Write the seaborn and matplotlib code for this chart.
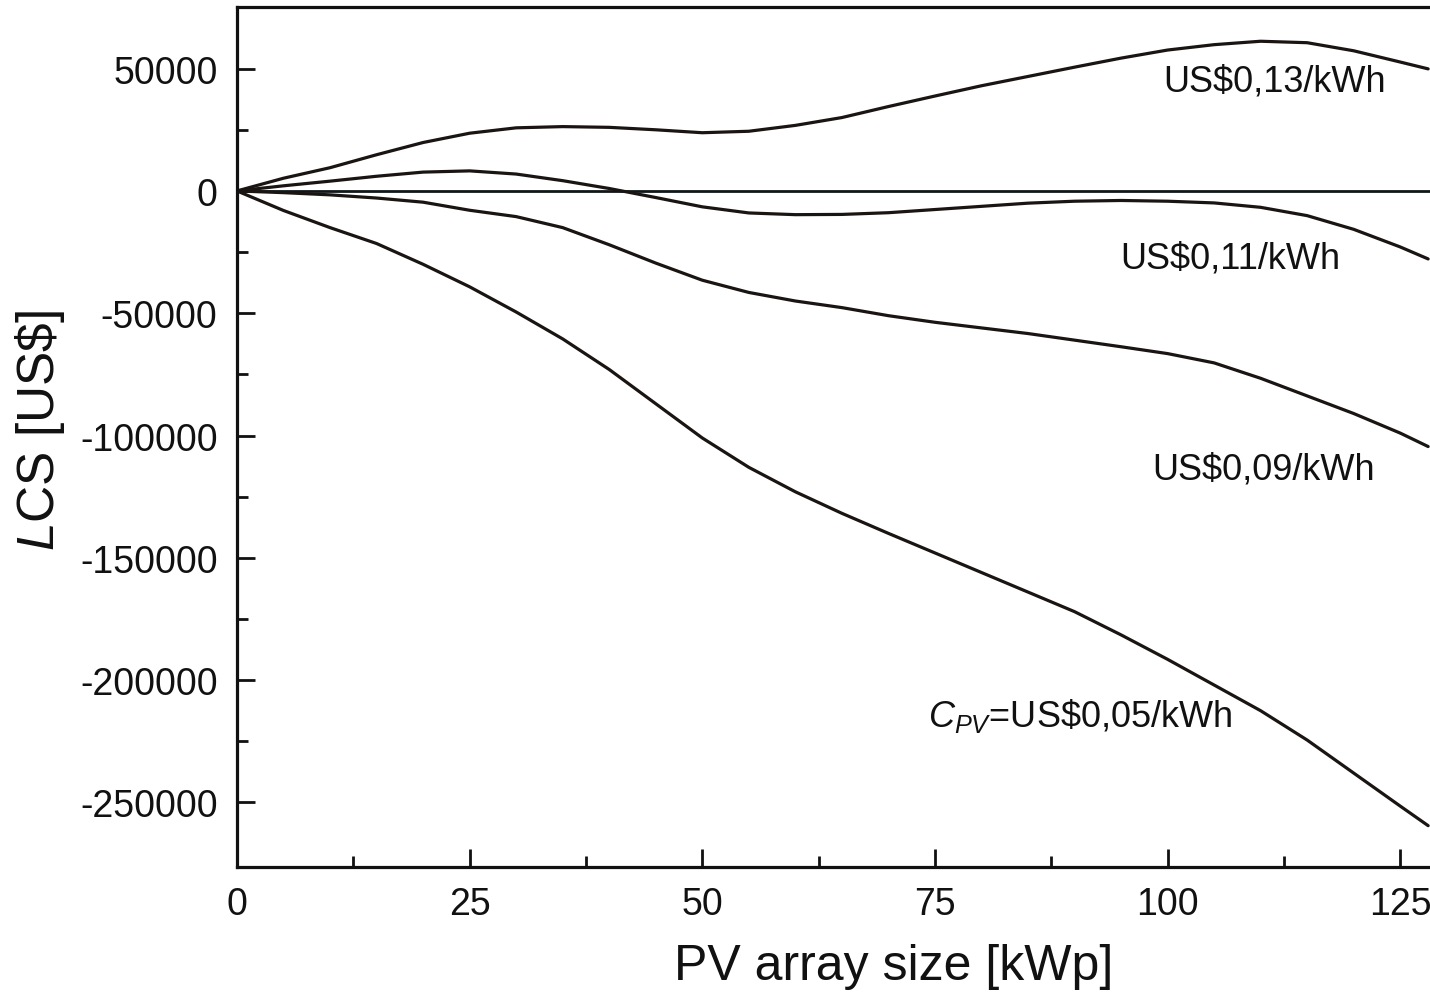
import matplotlib
matplotlib.use("Agg")
import matplotlib.pyplot as plt
from matplotlib.ticker import FixedLocator
import numpy as np
import pandas as pd
import seaborn as sns

# ---- data ----
pv_size = [0, 5, 10, 15, 20, 25, 30, 35, 40, 45, 50, 55, 60, 65, 70, 75,
           80, 85, 90, 95, 100, 105, 110, 115, 120, 125, 128]
lcs_013 = [0, 5200, 9500, 14800, 19800, 23600, 25800, 26300, 26000, 25000,
           23800, 24400, 26800, 30000, 34500, 38800, 43000, 46800, 50600,
           54300, 57600, 59800, 61200, 60600, 57300, 52700, 49900]
lcs_011 = [0, 2100, 4000, 6000, 7700, 8200, 6900, 4200, 1000, -2700, -6500,
           -9000, -9700, -9600, -8900, -7600, -6300, -5000, -4200, -3900,
           -4200, -4900, -6700, -10100, -15700, -22900, -27800]
lcs_009 = [0, -700, -1600, -2900, -4600, -7900, -10500, -15000, -22000,
           -29500, -36500, -41500, -45000, -47700, -51000, -53700, -56000,
           -58300, -61000, -63700, -66500, -70300, -76600, -83800, -91000,
           -99000, -104500]
lcs_005 = [0, -8000, -15000, -21500, -30000, -39200, -49500, -60500, -73000,
           -87000, -101000, -113000, -123000, -131800, -140000, -148000,
           -156000, -164000, -172000, -181500, -191500, -202000, -212500,
           -224500, -238000, -251500, -259500]
series_names = ["0.13", "0.11", "0.09", "0.05"]
labels = ["US$0,13/kWh", "US$0,11/kWh", "US$0,09/kWh",
          r"$C_{PV}$=US\$0,05/kWh"]
label_pos = [(99.5, 40900), (94.9, -31500), (98.4, -117700), (74.3, -218700)]
x_ticks = [0, 25, 50, 75, 100, 125]
x_minor = [12.5, 37.5, 62.5, 87.5, 112.5]
y_ticks = [50000, 0, -50000, -100000, -150000, -200000, -250000]
y_minor = [25000, -25000, -75000, -125000, -175000, -225000]

df = pd.concat([
    pd.DataFrame({"x": pv_size, "y": vals, "s": name})
    for name, vals in zip(series_names, [lcs_013, lcs_011, lcs_009, lcs_005])
])

sns.set_theme(style="white")
plt.rcParams["font.family"] = ["Liberation Sans", "DejaVu Sans"]
plt.rcParams["mathtext.fontset"] = "custom"
plt.rcParams["mathtext.rm"] = "Liberation Sans"
plt.rcParams["mathtext.it"] = "Liberation Sans:italic"
plt.rcParams["mathtext.bf"] = "Liberation Sans:bold"

W, H = 1430, 995
fig = plt.figure(figsize=(W / 100, H / 100), dpi=100)
ax = fig.add_axes([237 / W, 1 - 868 / H, (1430 - 237) / W, (868 - 8) / H])

line_col = "#1a1512"
sns.lineplot(data=df, x="x", y="y", hue="s", palette=[line_col] * 4,
             legend=False, ax=ax, linewidth=2.3, sort=False)
ax.axhline(0, color="#111618", linewidth=2.0, zorder=1)

ax.set_xlim(0, 128.2)
ax.set_ylim(-276400, 75200)
ax.set_xticks(x_ticks)
ax.set_yticks(y_ticks)
ax.set_xticklabels([str(v) for v in x_ticks])
ax.set_yticklabels([str(v) for v in y_ticks])
ax.xaxis.set_minor_locator(FixedLocator(x_minor))
ax.yaxis.set_minor_locator(FixedLocator(y_minor))

ax.tick_params(axis="both", which="both", bottom=True, left=True,
               top=False, right=False)
ax.tick_params(axis="both", which="major", direction="in", length=13,
               width=2.0, labelsize=27, color="#111", labelcolor="#111")
ax.tick_params(axis="both", which="minor", direction="in", length=8,
               width=2.0, color="#111")
ax.tick_params(axis="x", which="major", pad=14)
ax.tick_params(axis="y", which="major", pad=14)

for side in ["left", "bottom", "top"]:
    ax.spines[side].set_visible(True)
    ax.spines[side].set_linewidth(2.3)
    ax.spines[side].set_color("#111")
ax.spines["right"].set_visible(False)

ax.set_xlabel("PV array size [kWp]", fontsize=36, color="#111")
ax.set_ylabel(r"$\mathit{L}$CS [US\$]", fontsize=37, color="#111")
ax.xaxis.set_label_coords((894 - 237) / (1430 - 237), -(967 - 868) / 860)
ax.yaxis.set_label_coords(-(237 - 40) / (1430 - 237), (868 - 430) / 860)
ax.xaxis.label.set_va("center")
ax.yaxis.label.set_va("center")

for txt, (tx, ty) in zip(labels, label_pos):
    ax.text(tx, ty, txt, fontsize=26, color="#111", ha="left", va="baseline")

fig.savefig("out.png", dpi=100)
